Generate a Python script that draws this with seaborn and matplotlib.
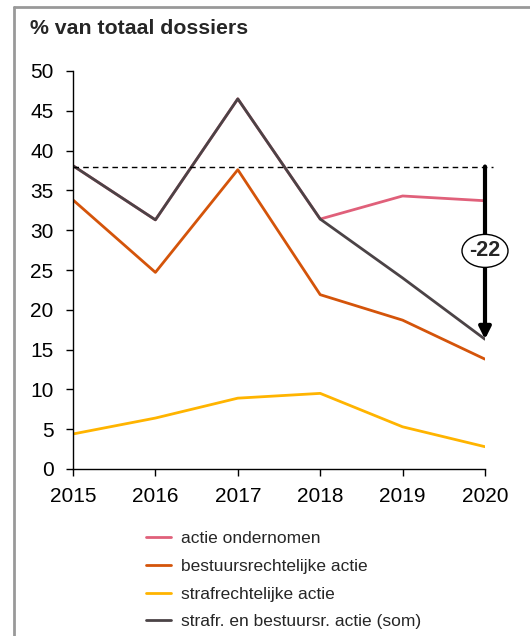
import matplotlib
matplotlib.use("Agg")
import matplotlib.pyplot as plt
import seaborn as sns
import pandas as pd
from matplotlib.lines import Line2D
from matplotlib.patches import Ellipse
from matplotlib.transforms import ScaledTranslation

years = [2015, 2016, 2017, 2018, 2019, 2020]
actie_ondernomen = [38.1, 31.3, 46.5, 31.4, 34.3, 33.7]
bestuursrechtelijk = [33.8, 24.7, 37.6, 21.9, 18.7, 13.8]
strafrechtelijk = [4.4, 6.4, 8.9, 9.5, 5.3, 2.8]
som = [38.1, 31.3, 46.5, 31.4, 24.0, 16.3]
series_names = ["actie ondernomen", "bestuursrechtelijke actie",
                "strafrechtelijke actie", "strafr. en bestuursr. actie (som)"]
colors = ["#E0607A", "#D4540A", "#FFB400", "#4B4346"]
ref_level = 38.0
delta_label = "-22"
yticks = [0, 5, 10, 15, 20, 25, 30, 35, 40, 45, 50]

sns.set_style("white")
plt.rcParams['font.family'] = ['Liberation Sans', 'DejaVu Sans']

df = pd.DataFrame({
    "jaar": years * 4,
    "waarde": actie_ondernomen + bestuursrechtelijk + strafrechtelijk + som,
    "reeks": sum([[n] * len(years) for n in series_names], []),
})

fig = plt.figure(figsize=(5.3, 6.36), dpi=100)
ax = fig.add_axes([73/530, 1-469/636, 412/530, 398/636])

sns.lineplot(data=df, x="jaar", y="waarde", hue="reeks", hue_order=series_names,
             palette=colors, linewidth=2.0, ax=ax, legend=True)

ax.set_xlim(2015, 2020)
ax.set_ylim(0, 50)
ax.set_xticks(years)
ax.set_yticks(yticks)
ax.set_xlabel("")
ax.set_ylabel("")
for s in ["top", "right"]:
    ax.spines[s].set_visible(False)
for s in ["left", "bottom"]:
    ax.spines[s].set_color("black")
    ax.spines[s].set_linewidth(1.0)
ax.tick_params(axis="both", which="major", direction="out", length=5, width=1,
               color="black", labelsize=15, labelcolor="black", left=True, bottom=True)
ax.tick_params(axis="y", pad=9)
ax.tick_params(axis="x", pad=8)

# dashed reference line
ax.plot([2015, 2020.1], [ref_level, ref_level], ls=(0, (4, 3)), color="black",
        lw=1.0, clip_on=False, zorder=3)
# arrow
ax.annotate("", xy=(years[-1], som[-1]), xytext=(years[-1], ref_level),
            arrowprops=dict(arrowstyle="-|>,head_length=0.7,head_width=0.35",
                            color="black", lw=3.0, shrinkA=0, shrinkB=0),
            zorder=5, annotation_clip=False)
label_y = 27.4
ell_trans = fig.dpi_scale_trans + ScaledTranslation(years[-1], label_y, ax.transData)
ax.add_artist(Ellipse((0, 0), 0.46, 0.33, transform=ell_trans, fc="white",
                      ec="black", lw=1.0, zorder=6, clip_on=False))
ax.text(years[-1], label_y, delta_label, ha="center", va="center", fontsize=15.5,
        fontweight="bold", zorder=7)

# legend
handles, labels = ax.get_legend_handles_labels()
ax.legend_.remove()
fig.legend(handles, labels, loc="upper left", bbox_to_anchor=(0.262, 0.1755),
           frameon=False, fontsize=12.5, handlelength=1.45, handletextpad=0.55,
           labelspacing=0.72, borderaxespad=0)

# title
fig.text(30/530, 1-28/636, "% van totaal dossiers", fontsize=15.3, fontweight="bold",
         ha="left", va="center")

# border
fig.add_artist(Line2D([14/530, 14/530], [1-7/636, 0], color="#999999", lw=2,
                      transform=fig.transFigure))
fig.add_artist(Line2D([14/530, 1], [1-7/636, 1-7/636], color="#999999", lw=2,
                      transform=fig.transFigure))

fig.savefig("out.png", dpi=100)
